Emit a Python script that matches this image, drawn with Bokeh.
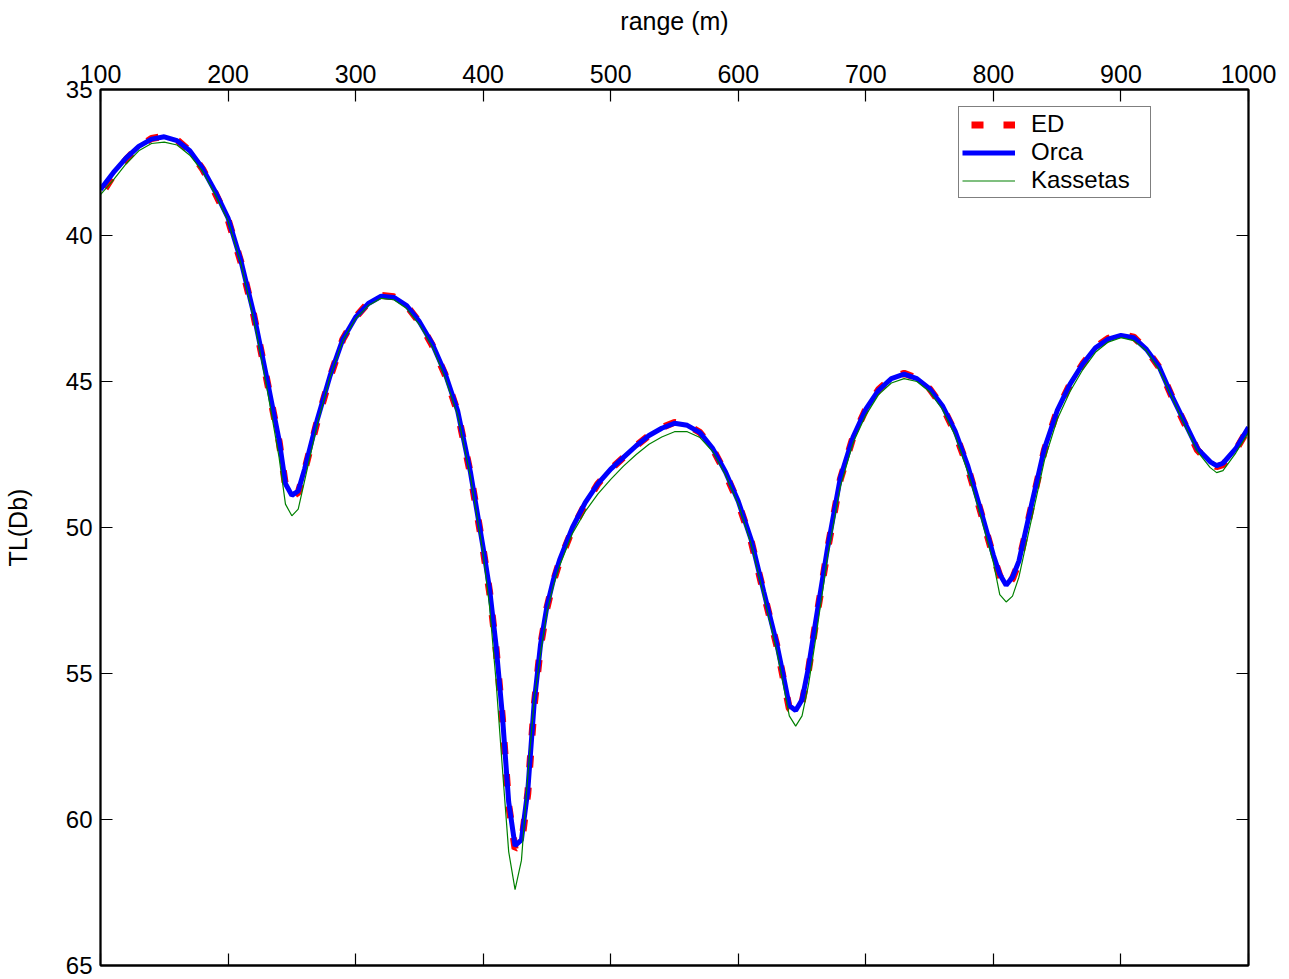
from bokeh.plotting import figure
from bokeh.models import Range1d, LinearAxis, FixedTicker, Legend, LegendItem
from bokeh.embed import file_html
from bokeh.resources import INLINE

# ---------------- data ----------------
rng = [100, 110, 120, 130, 140, 150, 160, 170, 180, 190, 200, 210, 220, 230, 240, 245, 250, 255, 260,
       270, 280, 290, 300, 310, 320, 330, 340, 350, 360, 370, 380, 390, 400, 405, 410, 415, 420, 425,
       430, 435, 440, 445, 450, 455, 460, 470, 480, 490, 500, 510, 520, 530, 540, 550, 560, 570, 580,
       590, 600, 610, 620, 630, 635, 640, 645, 650, 655, 660, 670, 680, 690, 700, 710, 720, 730, 740,
       750, 760, 770, 780, 790, 800, 805, 810, 815, 820, 830, 840, 850, 860, 870, 880, 890, 900, 910,
       920, 930, 940, 950, 960, 970, 975, 980, 990, 1000]

tl_orca = [38.42, 37.85, 37.35, 36.95, 36.70, 36.62, 36.75, 37.10, 37.70, 38.50, 39.40, 40.85, 42.65, 44.80,
           47.00, 48.50, 48.90, 48.75, 48.00, 46.30, 44.80, 43.55, 42.80, 42.33, 42.08, 42.12, 42.40, 42.95,
           43.70, 44.70, 46.00, 48.10, 50.70, 52.10, 54.00, 56.40, 59.40, 60.90, 60.70, 59.00, 56.00, 54.00,
           52.70, 51.80, 51.10, 50.00, 49.15, 48.50, 48.00, 47.60, 47.20, 46.85, 46.60, 46.43, 46.50, 46.75,
           47.30, 48.10, 49.10, 50.40, 52.20, 53.95, 55.00, 56.10, 56.27, 55.90, 54.80, 53.40, 50.70, 48.30,
           46.90, 45.95, 45.30, 44.90, 44.75, 44.90, 45.25, 45.83, 46.70, 47.90, 49.40, 50.95, 51.60, 51.98,
           51.70, 51.15, 49.20, 47.30, 46.00, 45.10, 44.40, 43.85, 43.55, 43.42, 43.50, 43.90, 44.50, 45.50,
           46.40, 47.30, 47.75, 47.88, 47.80, 47.30, 46.57]

tl_ed = [38.65, 37.95, 37.40, 36.95, 36.68, 36.60, 36.73, 37.10, 37.72, 38.55, 39.45, 40.90, 42.70, 44.85,
         47.05, 48.55, 48.95, 48.80, 48.05, 46.35, 44.85, 43.55, 42.80, 42.30, 42.05, 42.10, 42.40, 42.97,
         43.75, 44.75, 46.05, 48.15, 50.75, 52.20, 54.10, 56.50, 59.50, 61.00, 60.85, 59.10, 56.10, 54.05,
         52.75, 51.85, 51.15, 50.05, 49.20, 48.50, 48.00, 47.60, 47.20, 46.85, 46.58, 46.40, 46.48, 46.75,
         47.30, 48.15, 49.15, 50.45, 52.25, 54.00, 55.10, 56.20, 56.35, 56.00, 54.90, 53.45, 50.75, 48.35,
         46.90, 45.95, 45.28, 44.87, 44.72, 44.88, 45.25, 45.85, 46.75, 47.95, 49.45, 51.00, 51.65, 52.05,
         51.75, 51.20, 49.25, 47.35, 46.00, 45.10, 44.40, 43.83, 43.52, 43.38, 43.48, 43.90, 44.52, 45.52,
         46.45, 47.35, 47.80, 47.92, 47.85, 47.35, 46.60]

tl_kassetas = [38.60, 38.10, 37.55, 37.10, 36.85, 36.80, 36.90, 37.25, 37.80, 38.60, 39.50, 40.95, 42.85,
               45.10, 47.60, 49.20, 49.60, 49.37, 48.40, 46.45, 44.85, 43.60, 42.85, 42.40, 42.15, 42.20,
               42.50, 43.05, 43.80, 44.85, 46.15, 48.25, 50.90, 52.70, 55.20, 58.20, 61.10, 62.40, 61.40,
               58.50, 55.90, 54.30, 52.90, 52.00, 51.30, 50.20, 49.45, 48.85, 48.35, 47.90, 47.50, 47.15,
               46.90, 46.72, 46.72, 46.92, 47.40, 48.20, 49.20, 50.55, 52.35, 54.20, 55.30, 56.45, 56.80,
               56.45, 55.40, 54.00, 51.00, 48.60, 47.10, 46.15, 45.45, 45.05, 44.90, 45.00, 45.35, 45.95,
               46.85, 48.10, 49.60, 51.20, 52.30, 52.55, 52.35, 51.70, 49.70, 47.70, 46.30, 45.35, 44.60,
               44.00, 43.65, 43.50, 43.60, 43.95, 44.60, 45.55, 46.50, 47.40, 47.95, 48.12, 48.05, 47.45,
               46.75]

x_ticks = [100, 200, 300, 400, 500, 600, 700, 800, 900, 1000]
y_ticks = [35, 40, 45, 50, 55, 60, 65]

FONT = "Liberation Sans"
FS = "25px"

p = figure(width=1283, height=979, output_backend="svg", toolbar_location=None,
           x_range=Range1d(100, 1000), y_range=Range1d(65, 35),
           x_axis_location="above", min_border_left=100, min_border_top=89,
           min_border_right=35, min_border_bottom=14)
p.grid.visible = False
p.outline_line_color = "black"
p.outline_line_width = 1.8
p.background_fill_color = "white"
p.border_fill_color = "white"

def style_axis(ax, ticks, show_labels, fs=FS):
    ax.ticker = FixedTicker(ticks=ticks)
    ax.major_tick_in = 12
    ax.major_tick_out = 0
    ax.minor_tick_in = 0
    ax.minor_tick_out = 0
    ax.major_tick_line_color = "black"
    ax.major_tick_line_width = 1.2
    ax.axis_line_color = "black"
    ax.axis_line_width = 1.8
    ax.major_label_text_font = FONT
    ax.major_label_text_color = "black"
    ax.axis_label_text_font = FONT
    ax.axis_label_text_font_style = "normal"
    ax.axis_label_text_font_size = FS
    ax.axis_label_text_color = "black"
    ax.major_label_text_font_size = fs
    if not show_labels:
        ax.major_label_overrides = {t: "" for t in ticks}
        ax.major_label_standoff = 0

xa = p.xaxis[0]
style_axis(xa, x_ticks, True)
xa.axis_label = "range (m)"
xa.major_label_standoff = 7
xa.axis_label_standoff = 27

ya = p.yaxis[0]
style_axis(ya, y_ticks, True, "24px")
ya.axis_label = "TL(Db)"
ya.major_label_standoff = 8
ya.axis_label_standoff = 31

xb = LinearAxis()
style_axis(xb, x_ticks, False)
p.add_layout(xb, "below")
yr = LinearAxis()
style_axis(yr, y_ticks, False)
p.add_layout(yr, "right")

r_ed = p.line(rng, tl_ed, line_color="#ff0000", line_width=7, line_dash="12 20", line_dash_offset=23)
r_orca = p.line(rng, tl_orca, line_color="#0000ff", line_width=5)
r_kas = p.line(rng, tl_kassetas, line_color="#008000", line_width=1.2)

legend = Legend(items=[LegendItem(label="ED", renderers=[r_ed]),
                       LegendItem(label="Orca", renderers=[r_orca]),
                       LegendItem(label="Kassetas", renderers=[r_kas])],
                location=(858, 767))
legend.label_text_font = FONT
legend.label_text_font_size = "24px"
legend.label_text_color = "black"
legend.glyph_width = 53
legend.glyph_height = 27
legend.label_height = 27
legend.label_width = 116
legend.spacing = 0
legend.padding = 3
legend.margin = 0
legend.label_standoff = 16
legend.border_line_color = "black"
legend.border_line_width = 1.5
legend.background_fill_color = "white"
legend.background_fill_alpha = 1.0
p.add_layout(legend, "center")

open("out.html", "w").write(file_html(p, INLINE))
